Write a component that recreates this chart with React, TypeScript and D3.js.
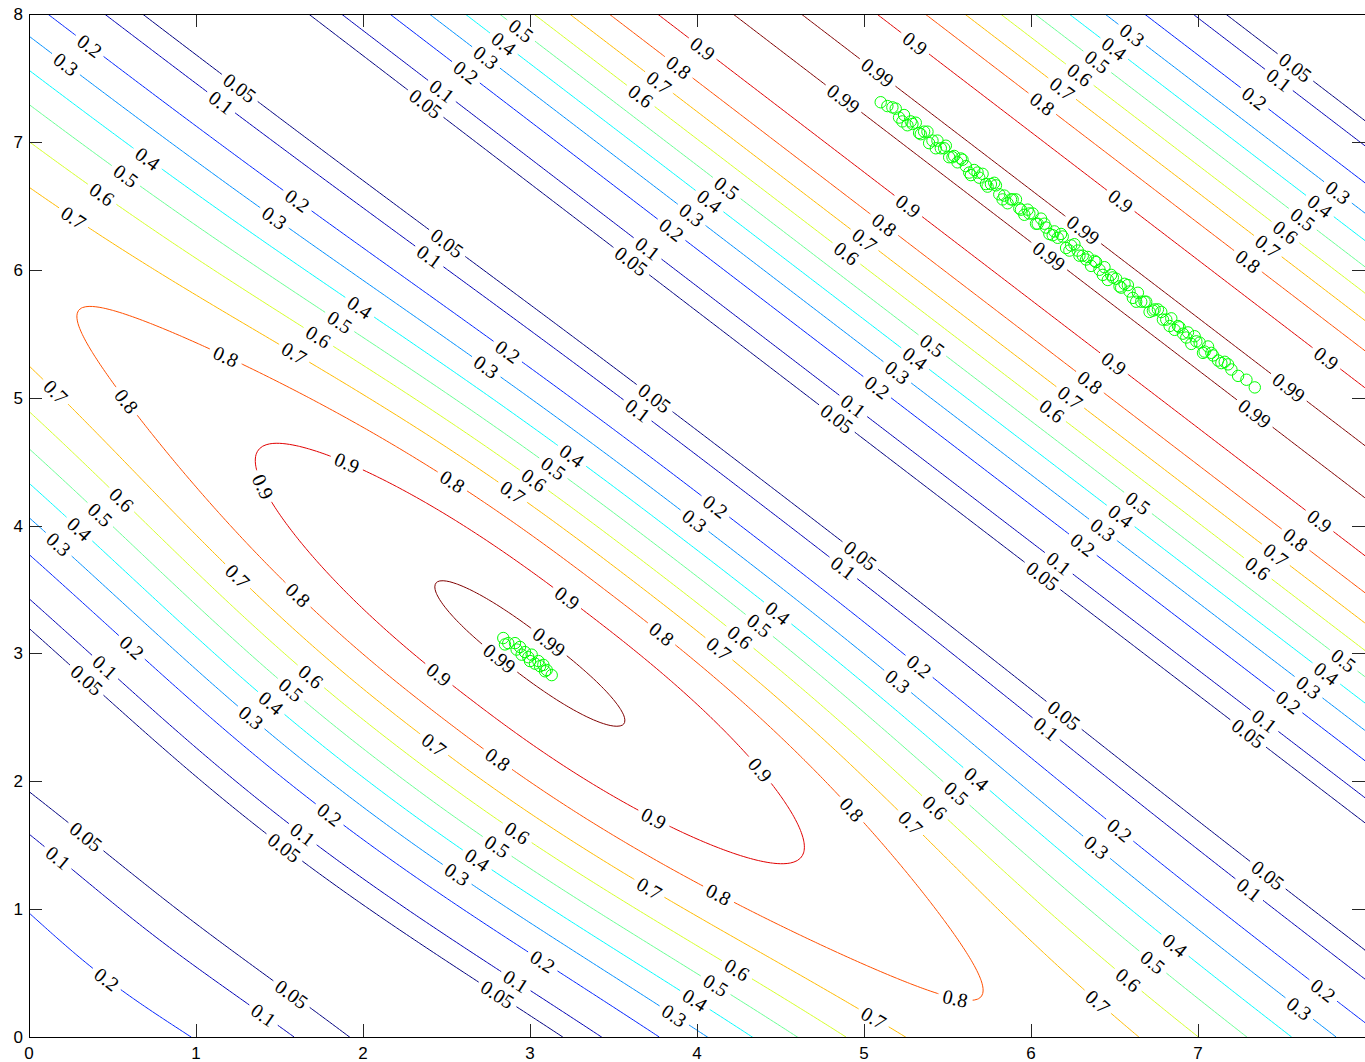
import { useEffect, useRef } from "react";
import * as d3 from "d3";

// contour levels drawn (and labelled) on the surface
const levels = [0.05, 0.1, 0.2, 0.3, 0.4, 0.5, 0.6, 0.7, 0.8, 0.9, 0.99];
const xTicks = [0, 1, 2, 3, 4, 5, 6, 7];
const yTicks = [0, 1, 2, 3, 4, 5, 6, 7, 8];

// surface, in u = x + y and v = |x - y|
// ridge: straight band along x + y = 12.42
const ridgeCentre = 12.42;
const ridgeK = 0.49;
// main mode around (3, 3)
const modeCentre = 6.0;
const modeFloor = 0.765;
const modeSpread = 4.12;
const modePower = 2.4;
const modeKLow = 0.45;
const modeKLowGain = 0.045;
// weak mode beyond the origin
const originZero = 2.62;
const originK = 0.6;
const originAmp = 0.275;
const originAmpGain = 0.03;

// samples (green circles) near the main mode
const clusterSamples: [number, number][] = [
  [2.84, 3.12], [2.85, 3.07], [2.87, 3.08], [2.91, 3.08], [2.92, 3.03],
  [2.94, 3.05], [2.95, 2.99], [2.97, 3.01], [2.99, 2.97], [3.01, 2.99],
  [3.0, 2.94], [3.03, 2.92], [3.05, 2.94], [3.06, 2.9], [3.08, 2.91],
  [3.09, 2.86], [3.1, 2.87], [3.13, 2.83],
];

// samples (green circles) stretched along the ridge
const ridgeSamples: [number, number][] = [
  [5.1, 7.31], [5.14, 7.28], [5.17, 7.27], [5.21, 7.19], [5.24, 7.21],
  [5.26, 7.13], [5.29, 7.14], [5.31, 7.15], [5.34, 7.06], [5.36, 7.08],
  [5.39, 6.99], [5.41, 7.01], [5.44, 7.01], [5.46, 6.95], [5.49, 6.97],
  [5.51, 6.88], [5.54, 6.89], [5.56, 6.84], [5.59, 6.86], [5.61, 6.81],
  [5.64, 6.74], [5.66, 6.78], [5.69, 6.72], [5.71, 6.75], [5.74, 6.65],
  [5.76, 6.67], [5.79, 6.66], [5.81, 6.59], [5.84, 6.58], [5.86, 6.52],
  [5.89, 6.55], [5.91, 6.55], [5.94, 6.47], [5.96, 6.43], [5.99, 6.44],
  [6.01, 6.44], [6.04, 6.36], [6.06, 6.4], [6.09, 6.33], [6.11, 6.28],
  [6.14, 6.3], [6.16, 6.25], [6.19, 6.26], [6.21, 6.17], [6.24, 6.19],
  [6.26, 6.2], [6.29, 6.11], [6.31, 6.11], [6.34, 6.1], [6.36, 6.03],
  [6.39, 6.06], [6.41, 6.0], [6.44, 6.02], [6.46, 5.92], [6.49, 5.94],
  [6.51, 5.93], [6.54, 5.86], [6.56, 5.89], [6.59, 5.83], [6.61, 5.78],
  [6.64, 5.82], [6.66, 5.75], [6.69, 5.75], [6.71, 5.67], [6.74, 5.69],
  [6.76, 5.69], [6.79, 5.61], [6.81, 5.61], [6.84, 5.62], [6.86, 5.53],
  [6.89, 5.55], [6.91, 5.5], [6.94, 5.51], [6.96, 5.42], [6.99, 5.44],
  [7.01, 5.43], [7.04, 5.36], [7.06, 5.4], [7.09, 5.33], [7.12, 5.29],
  [7.16, 5.28], [7.2, 5.22], [7.24, 5.17], [7.29, 5.14], [7.34, 5.08],
  [5.19, 7.26], [5.23, 7.16], [5.28, 7.16], [5.33, 7.07], [5.38, 7.08],
  [5.43, 6.95], [5.48, 6.95], [5.53, 6.88], [5.58, 6.87], [5.63, 6.76],
  [5.68, 6.76], [5.73, 6.67], [5.78, 6.68], [5.83, 6.55], [5.88, 6.55],
  [5.93, 6.48], [5.98, 6.47], [6.03, 6.36], [6.08, 6.36], [6.13, 6.27],
  [6.18, 6.28], [6.23, 6.15], [6.28, 6.15], [6.33, 6.08], [6.38, 6.07],
  [6.43, 5.96], [6.48, 5.96], [6.53, 5.87], [6.58, 5.88], [6.63, 5.75],
  [6.68, 5.75], [6.73, 5.68], [6.78, 5.67], [6.83, 5.56], [6.88, 5.56],
  [6.93, 5.47], [6.98, 5.48], [7.03, 5.35], [7.08, 5.35], [7.14, 5.27],
  [7.18, 5.26],
];

function lobe(d: number, k: number) {
  const p = k * d;
  return Math.abs(p) >= Math.PI / 2 ? 0 : Math.cos(p) ** 2;
}

function surface(px: number, py: number) {
  const u = px + py;
  const v = Math.abs(px - py);
  let f = lobe(u - ridgeCentre, ridgeK);
  const amp = modeFloor + (1 - modeFloor) * Math.exp(-Math.pow(v / modeSpread, modePower));
  const kLow = modeKLow + modeKLowGain * (1 - Math.exp(-((v / 3.5) ** 2)));
  f += amp * lobe(u - modeCentre, u < modeCentre ? kLow : ridgeK);
  if (u < originZero) {
    const a0 = originAmp + originAmpGain * (1 - Math.exp(-(v * v) / 2));
    const s = Math.min(originK * (originZero - u), Math.PI / 2);
    f += a0 * Math.sin(s) ** 2;
  }
  return f;
}

// matlab "jet"
function jet(t: number) {
  const c = (a: number) => Math.round(255 * Math.max(0, Math.min(1, a)));
  const r = c(1.5 - Math.abs(4 * t - 3));
  const g = c(1.5 - Math.abs(4 * t - 2));
  const b = c(1.5 - Math.abs(4 * t - 1));
  return `rgb(${r},${g},${b})`;
}

const App = () => {
  const svgRef = useRef<SVGSVGElement>(null);

  useEffect(() => {
    const width = 1365;
    const height = 1062;
    const left = 29;
    const top = 14;
    const bottom = 1037;
    const right = 1365;

    const svg = d3.select(svgRef.current);
    svg.selectAll("*").remove();
    svg.attr("width", width).attr("height", height);

    const x = d3.scaleLinear().domain([0, 8]).range([left, right]);
    const y = d3.scaleLinear().domain([0, 8]).range([bottom, top]);
    const color = (lv: number) =>
      jet((lv - levels[0]) / (levels[levels.length - 1] - levels[0]));

    svg
      .append("defs")
      .append("clipPath")
      .attr("id", "plot-clip")
      .append("rect")
      .attr("x", left)
      .attr("y", top)
      .attr("width", right - left)
      .attr("height", bottom - top);

    // sample the surface on a grid
    const n = 401;
    const h = 8 / (n - 1);
    const values = new Array(n * n);
    for (let j = 0; j < n; j++) {
      for (let i = 0; i < n; i++) values[j * n + i] = surface(i * h, j * h);
    }
    const contours = d3.contours().size([n, n]).thresholds(levels)(values);

    const onEdge = (p: number[]) => p[0] <= 0 || p[0] >= n || p[1] <= 0 || p[1] >= n;
    const toPx = (p: number[]): [number, number] => [
      x((p[0] - 0.5) * h),
      y((p[1] - 0.5) * h),
    ];

    // turn d3 rings into open lines (drop grid-border runs)
    const splitRing = (ring: number[][]) => {
      const pts = ring.slice(0, -1);
      const m = pts.length;
      const start = pts.findIndex(onEdge);
      if (start < 0) return [{ pts: ring, closed: true }];
      const out: { pts: number[][]; closed: boolean }[] = [];
      let cur: number[][] | null = null;
      let lastEdge = pts[start];
      for (let k = 1; k <= m; k++) {
        const p = pts[(start + k) % m];
        if (onEdge(p)) {
          if (cur) {
            cur.push(p);
            out.push({ pts: cur, closed: false });
            cur = null;
          }
          lastEdge = p;
        } else {
          if (!cur) cur = [lastEdge];
          cur.push(p);
        }
      }
      return out;
    };

    const fontSize = 20;
    const textWidth = (s: string) =>
      s.split("").reduce((a, ch) => a + (ch === "." ? 0.25 : 0.5), 0) * fontSize;
    const spacing = 259;

    const plot = svg.append("g").attr("clip-path", "url(#plot-clip)");
    const labelLayer = svg.append("g").attr("clip-path", "url(#plot-clip)");
    const line = d3.line();

    contours.forEach((c) => {
      const lv = c.value;
      const label = String(lv);
      const stroke = color(lv);
      const lines: { pts: [number, number][]; closed: boolean }[] = [];
      c.coordinates.forEach((poly) =>
        poly.forEach((ring) =>
          splitRing(ring as number[][]).forEach((r) =>
            lines.push({ pts: r.pts.map(toPx), closed: r.closed })
          )
        )
      );

      lines.forEach(({ pts, closed }) => {
        const cum = [0];
        for (let i = 1; i < pts.length; i++) {
          cum.push(cum[i - 1] + Math.hypot(pts[i][0] - pts[i - 1][0], pts[i][1] - pts[i - 1][1]));
        }
        const L = cum[cum.length - 1];
        const pointAt = (s: number): [number, number] => {
          s = Math.max(0, Math.min(L, s));
          const i = d3.bisectLeft(cum, s);
          if (i <= 0) return pts[0];
          const t = (s - cum[i - 1]) / (cum[i] - cum[i - 1] || 1);
          return [
            pts[i - 1][0] + t * (pts[i][0] - pts[i - 1][0]),
            pts[i - 1][1] + t * (pts[i][1] - pts[i - 1][1]),
          ];
        };
        const sub = (a: number, b: number) => {
          const out: [number, number][] = [pointAt(a)];
          for (let i = 0; i < pts.length; i++) if (cum[i] > a && cum[i] < b) out.push(pts[i]);
          out.push(pointAt(b));
          return out;
        };

        const w = textWidth(label);
        const gap = w / 2 + 5;
        const marks: number[] = [];
        if (L > w + 40) {
          let count = Math.floor(L / spacing) + 1;
          let s0 = (L - (count - 1) * spacing) / 2;
          if (s0 < gap + (closed ? 0 : 8) && count > 1) {
            count -= 1;
            s0 = (L - (count - 1) * spacing) / 2;
          }
          for (let k = 0; k < count; k++) marks.push(s0 + k * spacing);
        }

        const pieces: [number, number][][] = [];
        let from = 0;
        marks.forEach((s) => {
          if (s - gap > from) pieces.push(sub(from, s - gap));
          from = s + gap;
        });
        if (from < L) pieces.push(sub(from, L));

        pieces.forEach((p) =>
          plot
            .append("path")
            .attr("d", line(p))
            .attr("fill", "none")
            .attr("stroke", stroke)
            .attr("stroke-width", 1)
        );

        marks.forEach((s) => {
          const [cx, cy] = pointAt(s);
          const a = pointAt(s - 7);
          const b = pointAt(s + 7);
          let ang = (Math.atan2(b[1] - a[1], b[0] - a[0]) * 180) / Math.PI;
          if (ang > 90) ang -= 180;
          if (ang < -90) ang += 180;
          labelLayer
            .append("text")
            .attr("transform", `translate(${cx},${cy}) rotate(${ang})`)
            .attr("text-anchor", "middle")
            .attr("dominant-baseline", "central")
            .attr("fill", "#000")
            .style("font-family", "'Liberation Serif', 'Times New Roman', serif")
            .style("font-size", `${fontSize}px`)
            .text(label);
        });
      });
    });

    // green samples
    const samples = svg.append("g").attr("clip-path", "url(#plot-clip)");
    [...ridgeSamples, ...clusterSamples].forEach(([sx, sy]) => {
      samples
        .append("circle")
        .attr("cx", x(sx))
        .attr("cy", y(sy))
        .attr("r", 5.7)
        .attr("fill", "none")
        .attr("stroke", "#00ff00")
        .attr("stroke-width", 1);
    });

    // axes box and ticks
    const axes = svg.append("g");
    const tickLen = 13;
    const tickColor = "#262626";
    [...xTicks, 8].forEach((t) => {
      const px = Math.round(x(t)) + 0.5;
      axes.append("line").attr("x1", px).attr("x2", px).attr("y1", bottom).attr("y2", bottom - tickLen).attr("stroke", tickColor);
      axes.append("line").attr("x1", px).attr("x2", px).attr("y1", top).attr("y2", top + tickLen).attr("stroke", tickColor);
    });
    xTicks.forEach((t) => {
      axes
        .append("text")
        .attr("x", x(t))
        .attr("y", bottom + 22)
        .attr("text-anchor", "middle")
        .attr("fill", "#000")
        .style("font-family", "'Liberation Sans', Arial, sans-serif")
        .style("font-size", "17px")
        .text(t);
    });
    yTicks.forEach((t) => {
      const py = Math.round(y(t)) + 0.5;
      axes.append("line").attr("x1", left).attr("x2", left + tickLen).attr("y1", py).attr("y2", py).attr("stroke", tickColor);
      axes.append("line").attr("x1", right).attr("x2", right - tickLen).attr("y1", py).attr("y2", py).attr("stroke", tickColor);
      axes
        .append("text")
        .attr("x", left - 6)
        .attr("y", y(t) + 6)
        .attr("text-anchor", "end")
        .attr("fill", "#000")
        .style("font-family", "'Liberation Sans', Arial, sans-serif")
        .style("font-size", "17px")
        .text(t);
    });
    axes
      .append("rect")
      .attr("x", left + 0.5)
      .attr("y", top + 0.5)
      .attr("width", right - left)
      .attr("height", bottom - top)
      .attr("fill", "none")
      .attr("stroke", "#000")
      .attr("stroke-width", 1);
  }, []);

  return (
    <div style={{ position: "absolute", left: 0, top: 0, background: "#fff" }}>
      <svg ref={svgRef} style={{ display: "block" }}></svg>
    </div>
  );
};

export default App;
